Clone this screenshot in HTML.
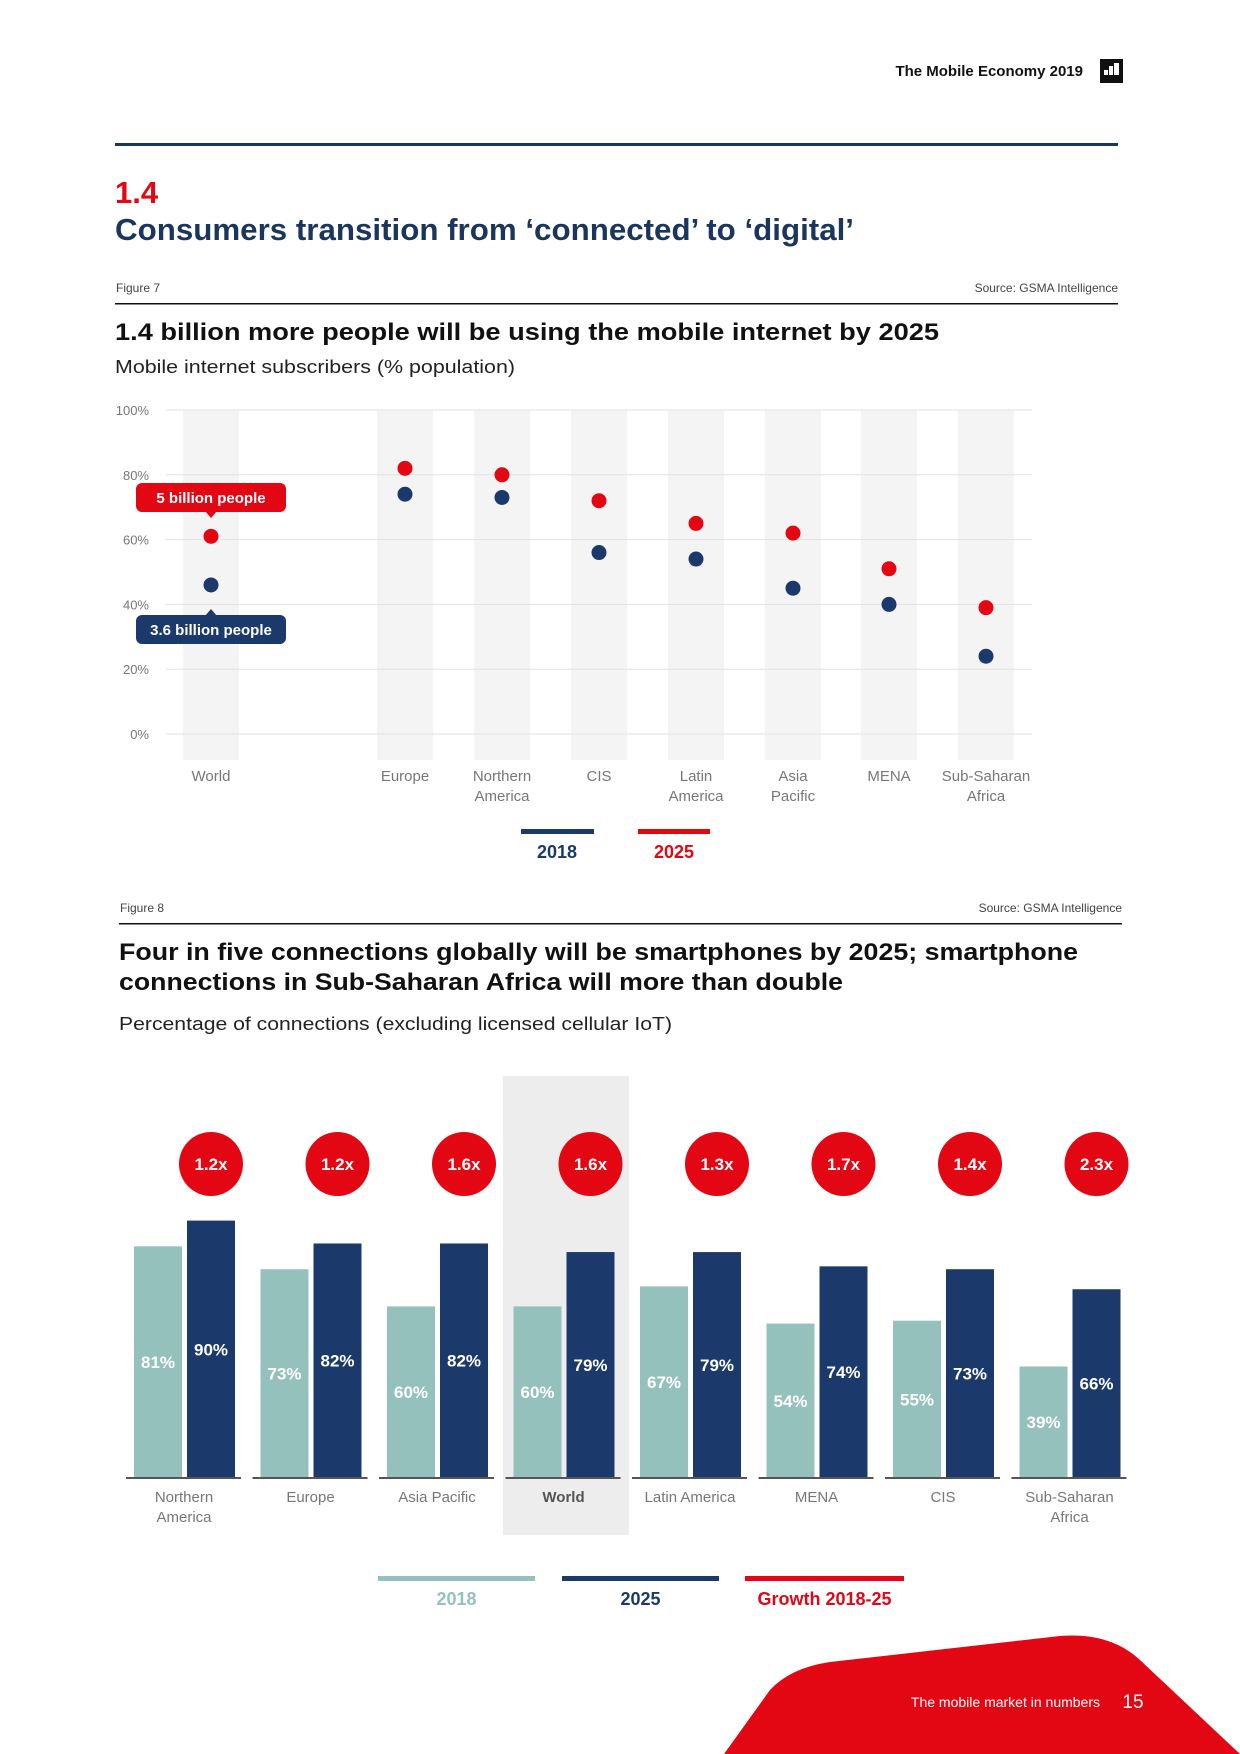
<!DOCTYPE html>
<html><head><meta charset="utf-8"><style>
html,body{margin:0;padding:0;background:#fff}
svg{display:block;font-family:"Liberation Sans",sans-serif}
</style></head><body>
<svg id="page" width="1240" height="1754" viewBox="0 0 1240 1754">
<text x="1083" y="76" font-size="15" font-weight="bold" fill="#111" text-anchor="end">The Mobile Economy 2019</text>
<rect x="1100" y="59" width="23" height="24" fill="#111"/>
<rect x="1104" y="70" width="4" height="5" fill="#fff"/><rect x="1109" y="66" width="4" height="9" fill="#fff"/><rect x="1114" y="63" width="5" height="12" fill="#fff"/>
<rect x="115" y="143" width="1003" height="3" fill="#1b365d"/>
<text x="115" y="203" font-size="31" font-weight="bold" fill="#e30613">1.4</text>
<text x="115" y="240" font-size="31" font-weight="bold" fill="#1b365d" textLength="739" lengthAdjust="spacingAndGlyphs">Consumers transition from ‘connected’ to ‘digital’</text>
<text x="116" y="292" font-size="12" fill="#444">Figure 7</text>
<text x="1118" y="292" font-size="12" fill="#444" text-anchor="end">Source: GSMA Intelligence</text>
<rect x="115" y="303" width="1003" height="1.5" fill="#111"/>
<text x="115" y="340" font-size="24" font-weight="bold" fill="#111" textLength="824" lengthAdjust="spacingAndGlyphs">1.4 billion more people will be using the mobile internet by 2025</text>
<text x="115" y="373" font-size="18" fill="#222" textLength="400" lengthAdjust="spacingAndGlyphs">Mobile internet subscribers (% population)</text>
<g id="c1"></g>

<text x="120" y="912" font-size="12" fill="#444">Figure 8</text>
<text x="1122" y="912" font-size="12" fill="#444" text-anchor="end">Source: GSMA Intelligence</text>
<rect x="119" y="923" width="1003" height="1.5" fill="#111"/>
<text x="119" y="960" font-size="24" font-weight="bold" fill="#111" textLength="959" lengthAdjust="spacingAndGlyphs">Four in five connections globally will be smartphones by 2025; smartphone</text>
<text x="119" y="990" font-size="24" font-weight="bold" fill="#111" textLength="724" lengthAdjust="spacingAndGlyphs">connections in Sub-Saharan Africa will more than double</text>
<text x="119" y="1030" font-size="18" fill="#222" textLength="553" lengthAdjust="spacingAndGlyphs">Percentage of connections (excluding licensed cellular IoT)</text>
<g id="c2"></g>

<path d="M724 1754 L770 1690 Q790 1668 830 1662 L1060 1636 Q1110 1632 1140 1660 L1240 1754 Z" fill="#e30613"/>
<text x="1100" y="1707" font-size="14" fill="#fff" text-anchor="end">The mobile market in numbers</text>
<text x="1133" y="1708" font-size="19" fill="#fff" text-anchor="middle">15</text>
</svg>
<script>
// Chart 1 data
const c1Cats = [["World"],["Europe"],["Northern","America"],["CIS"],["Latin","America"],["Asia","Pacific"],["MENA"],["Sub-Saharan","Africa"]];
const c1Y2018 = [46,74,73,56,54,45,40,24];
const c1Y2025 = [61,82,80,72,65,62,51,39];
const c1Ticks = [0,20,40,60,80,100];
// Chart 2 data
const c2Cats = [["Northern","America"],["Europe"],["Asia Pacific"],["World"],["Latin America"],["MENA"],["CIS"],["Sub-Saharan","Africa"]];
const c2Y2018 = [81,73,60,60,67,54,55,39];
const c2Y2025 = [90,82,82,79,79,74,73,66];
const c2Growth = ["1.2x","1.2x","1.6x","1.6x","1.3x","1.7x","1.4x","2.3x"];

const NS="http://www.w3.org/2000/svg";
function mk(p,t,a,txt){const e=document.createElementNS(NS,t);for(const k in a)e.setAttribute(k,a[k]);if(txt!==undefined)e.textContent=txt;p.appendChild(e);return e;}

// ---- Chart 1
const g1=document.getElementById('c1');
const y1=v=>734-v*3.24;
const x1Centers=[211,405,502,599,696,793,889,986];
const x1=i=>x1Centers[i];
c1Cats.forEach((c,i)=>{
  const b=mk(g1,'rect',{x:x1(i)-28,y:410,width:56,height:350,fill:'#f4f4f4'});
  
  
});
c1Ticks.forEach(t=>{
  const l=mk(g1,'line',{x1:166,x2:1032,y1:y1(t),y2:y1(t),stroke:'#e2e2e2','stroke-width':1});
  
  
  const tx=mk(g1,'text',{x:149,y:y1(t)+5,'font-size':13,fill:'#777','text-anchor':'end'},t+'%');
  
  
});
c1Cats.forEach((c,i)=>{
  c.forEach((s,j)=>{
    const t=mk(g1,'text',{x:x1(i),y:781+j*20,'font-size':15,fill:'#777','text-anchor':'middle'},s);
    
    
  });
  const d1=mk(g1,'circle',{cx:x1(i),cy:y1(c1Y2018[i]),r:7.5,fill:'#1b3a6b'});
  
  
  const d2=mk(g1,'circle',{cx:x1(i),cy:y1(c1Y2025[i]),r:7.5,fill:'#e30613'});
  
  
});
// callouts
(function(){
  const cx=x1(0);
  const r1=mk(g1,'rect',{x:136,y:483,width:150,height:29,rx:6,fill:'#e30613'});
  
  
  mk(g1,'path',{d:`M${cx-6} 511 L${cx} 518 L${cx+6} 511 Z`,fill:'#e30613'});
  const t1=mk(g1,'text',{x:211,y:503,'font-size':15,'font-weight':'bold',fill:'#fff','text-anchor':'middle'},'5 billion people');
  
  
  const r2=mk(g1,'rect',{x:136,y:615,width:150,height:29,rx:6,fill:'#1b3a6b'});
  
  
  mk(g1,'path',{d:`M${cx-6} 616 L${cx} 609 L${cx+6} 616 Z`,fill:'#1b3a6b'});
  const t2=mk(g1,'text',{x:211,y:635,'font-size':15,'font-weight':'bold',fill:'#fff','text-anchor':'middle'},'3.6 billion people');
  
  
})();
// legend 1
(function(){
  const a=mk(g1,'rect',{x:521,y:829,width:73,height:5,fill:'#1b3a6b'});
  
  
  const at=mk(g1,'text',{x:557,y:858,'font-size':18,'font-weight':'bold',fill:'#1b3a6b','text-anchor':'middle'},'2018');
  
  
  const b=mk(g1,'rect',{x:638,y:829,width:72,height:5,fill:'#e30613'});
  
  
  const bt=mk(g1,'text',{x:674,y:858,'font-size':18,'font-weight':'bold',fill:'#e30613','text-anchor':'middle'},'2025');
  
  
})();

// ---- Chart 2
const g2=document.getElementById('c2');
const base=1478, pxPer=2.86;
const h2=v=>v*pxPer;
const gx=i=>126+i*126.5; // group left
const hl=mk(g2,'rect',{x:gx(3)+377-377+0,y:1076,width:126,height:459,fill:'#ededed'});
hl.setAttribute('x',503);


c2Cats.forEach((c,i)=>{
  const L=gx(i);
  const bl=mk(g2,'rect',{x:L+8,y:base-h2(c2Y2018[i]),width:48,height:h2(c2Y2018[i]),fill:'#95c1bd'});
  
  
  const bd=mk(g2,'rect',{x:L+61,y:base-h2(c2Y2025[i]),width:48,height:h2(c2Y2025[i]),fill:'#1b3a6b'});
  
  
  const ln=mk(g2,'rect',{x:L,y:base-1,width:115,height:2,fill:'#555'});
  
  
  const vl=mk(g2,'text',{x:L+32,y:base-h2(c2Y2018[i])/2+6,'font-size':17,'font-weight':'bold',fill:'#fff','text-anchor':'middle'},c2Y2018[i]+'%');
  
  
  const vd=mk(g2,'text',{x:L+85,y:base-h2(c2Y2025[i])/2+6,'font-size':17,'font-weight':'bold',fill:'#fff','text-anchor':'middle'},c2Y2025[i]+'%');
  
  
  const gc=mk(g2,'circle',{cx:L+85,cy:1164,r:32,fill:'#e30613'});
  
  
  const gt=mk(g2,'text',{x:L+85,y:1170,'font-size':17,'font-weight':'bold',fill:'#fff','text-anchor':'middle'},c2Growth[i]);
  
  
  c.forEach((s,j)=>{
    const t=mk(g2,'text',{x:L+58,y:1502+j*20,'font-size':15,fill:i===3?'#555':'#777','font-weight':i===3?'bold':'normal','text-anchor':'middle'},s);
    
    
  });
});
// legend 2
(function(){
  const items=[[378,535,'#95c1bd','2018'],[562,719,'#1b3a6b','2025'],[745,904,'#e30613','Growth 2018-25']];
  items.forEach(it=>{
    const r=mk(g2,'rect',{x:it[0],y:1576,width:it[1]-it[0],height:5,fill:it[2]});
    
    
    const t=mk(g2,'text',{x:(it[0]+it[1])/2,y:1605,'font-size':18,'font-weight':'bold',fill:it[2],'text-anchor':'middle'},it[3]);
    
    
  });
})();
</script>
</body></html>
